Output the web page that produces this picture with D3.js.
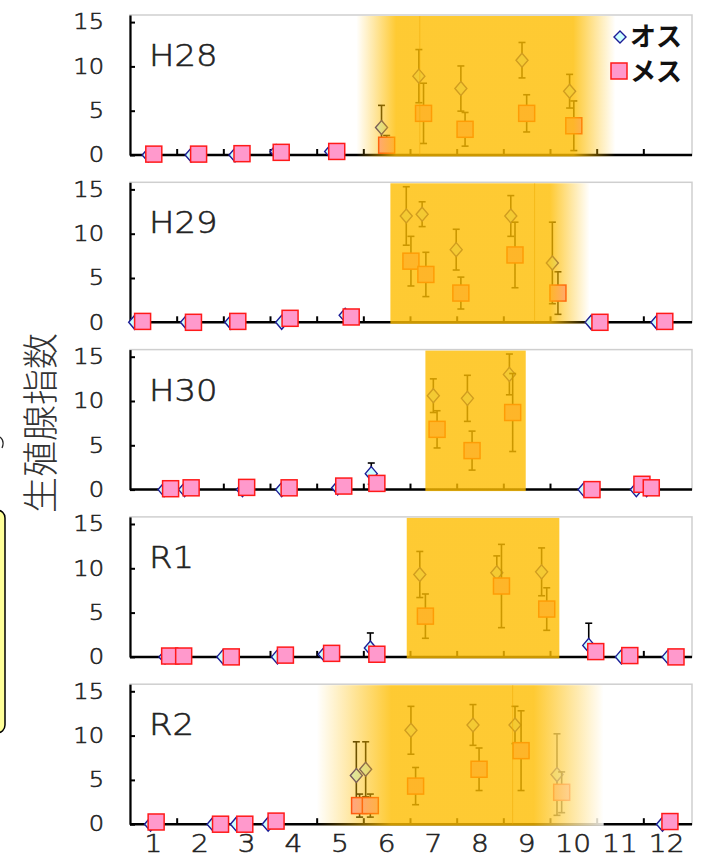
<!DOCTYPE html>
<html lang="ja">
<head>
<meta charset="UTF-8">
<title>生殖腺指数</title>
<script src="https://cdnjs.cloudflare.com/ajax/libs/d3/7.8.5/d3.min.js"></script>
<style>
  body { margin: 0; background: #fff; }
  svg { display: block; }
</style>
</head>
<body>
<svg id="chart" width="709" height="858"></svg>
<script>
// month labels and y ticks
const months = [1, 2, 3, 4, 5, 6, 7, 8, 9, 10, 11, 12];
const yTicks = [0, 5, 10, 15];
const panels = ["H28", "H29", "H30", "R1", "R2"];

// [t, 値, 誤差]  t = 1月はじめを0とした月位置
const osuH28 = [[0.39,0,0],[1.31,0,0],[2.25,0,0],[3.13,0.4,0],[4.30,0.4,0],[5.39,3.1,2.5],
                [6.19,8.9,3.0],[7.09,7.5,2.55],[8.40,10.7,2.0],[9.42,7.2,1.9]];
const mesuH28 = [[0.51,0.1,0],[1.47,0.1,0],[2.40,0.15,0],[3.24,0.3,0],[4.43,0.4,0],[5.50,1.1,1.1],
                 [6.29,4.7,3.4],[7.18,2.9,1.9],[8.50,4.7,2.1],[9.51,3.3,2.8]];
const osuH29 = [[0.10,0,0],[1.21,0,0],[2.16,0,0],[3.25,0,0],[4.61,0.8,0],[5.92,12.0,3.3],
                [6.26,12.2,1.4],[6.99,8.2,2.3],[8.16,12.0,2.3],[9.05,6.7,4.6],[9.88,0,0],[11.29,0,0]];
const mesuH29 = [[0.27,0.1,0],[1.36,0,0],[2.31,0.1,0],[3.43,0.45,0],[4.74,0.6,0],[6.02,6.9,2.8],
                 [6.34,5.4,2.5],[7.09,3.3,1.8],[8.25,7.6,3.7],[9.17,3.3,2.4],[10.07,0,0],[11.46,0.1,0]];
const osuH30 = [[0.73,0,0],[1.17,0,0],[2.41,0,0],[3.25,0,0],[4.45,0.2,0],[5.17,1.8,1.2],
                [6.50,10.6,1.9],[7.23,10.3,2.6],[8.13,13.0,2.3],[9.73,0,0],[10.85,0,0],[11.07,0,0]];
const mesuH30 = [[0.87,0.1,0],[1.31,0.2,0],[2.50,0.25,0],[3.41,0.2,0],[4.58,0.4,0],[5.29,0.7,0],
                 [6.58,6.8,2.1],[7.33,4.4,2.2],[8.20,8.7,4.4],[9.90,0,0],[10.97,0.6,0],[11.17,0.2,0]];
const osuR1 = [[0.75,0,0],[1.05,0,0],[1.99,0,0],[3.16,0,0],[4.16,0.3,0],[5.15,1.0,1.7],
               [6.21,9.3,2.6],[7.86,9.5,1.9],[8.82,9.6,2.7],[9.83,1.3,2.5],[10.53,0,0],[11.53,0,0]];
const mesuR1 = [[0.85,0.1,0],[1.15,0.1,0],[2.17,0,0],[3.33,0.2,0],[4.32,0.4,0],[5.29,0.3,0],
                [6.33,4.6,2.5],[7.96,8.0,4.7],[8.93,5.4,2.4],[9.98,0.6,0],[10.71,0.15,0],[11.70,0,0]];
const osuR2 = [[0.44,0,0],[1.78,0,0],[2.28,0,0],[2.96,0,0],[4.85,5.5,3.8],[5.05,6.2,3.1],
               [6.02,10.6,2.7],[7.35,11.2,2.3],[8.25,11.2,2.1],[9.15,5.6,4.6],[11.41,0,0]];
const mesuR2 = [[0.56,0.25,0],[1.94,0,0],[2.46,0,0],[3.13,0.35,0],[4.92,2.1,1.3],[5.15,2.1,1.3],
                [6.12,4.3,2.1],[7.48,6.2,2.4],[8.38,8.3,4.5],[9.25,3.6,2.3],[11.57,0.3,0]];

// 産卵期の網掛け: [フェード開始, 濃い開始, 濃い終了, フェード終了]
const shadeH28 = [4.85, 5.7, 9.5, 10.4];
const shadeH29 = [5.58, 5.58, 9.0, 9.85];
const shadeH30 = [6.33, 6.33, 8.48, 8.48];
const shadeR1 = [5.93, 5.93, 9.2, 9.2];
const shadeR2 = [4.0, 5.6, 8.65, 10.15];
// 画像のつなぎ目 (うすい縦線)
const seams = [6.21, 8.67, null, null, 8.2];

const osuAll = [osuH28, osuH29, osuH30, osuR1, osuR2];
const mesuAll = [mesuH28, mesuH29, mesuH30, mesuR1, mesuR2];
const shadeAll = [shadeH28, shadeH29, shadeH30, shadeR1, shadeR2];
const fadeToWhite = [false, false, false, false, true];

const svg = d3.select("#chart");
const defs = svg.append("defs");
const x = d3.scaleLinear().domain([0, 12]).range([130, 690]);
const numFont = "'DejaVu Sans', 'Liberation Sans', sans-serif";
const jpFont = "'Noto Sans CJK JP', sans-serif";
const yellow = "rgb(254,189,0)";

// thin numerals, thickened a little with a stroke
const thinText = sel => sel.attr("font-family", numFont).attr("font-weight", 200)
    .attr("fill", "#222").attr("stroke", "#222").attr("stroke-width", 0.55);

// left edge leftovers (box from neighbouring slide)
svg.append("rect").attr("x", -20).attr("y", 510).attr("width", 25).attr("height", 223)
    .attr("rx", 8).attr("fill", "#ffff99").attr("stroke", "#000").attr("stroke-width", 1.5);
svg.append("path").attr("d", "M0,437 Q5,441 2,448").attr("fill", "none")
    .attr("stroke", "#222").attr("stroke-width", 1.2);

panels.forEach((name, i) => {
    const base = 155 + i * 167.3;
    const y = d3.scaleLinear().domain([0, 15.8]).range([base, base - 140]);
    const g = svg.append("g");

    // light frame
    g.append("rect").attr("x", 130).attr("y", base - 140).attr("width", 562).attr("height", 140)
        .attr("fill", "none").attr("stroke", "#cfcfcf").attr("stroke-width", 1.5);

    // y axis
    const ya = g.append("g").attr("transform", "translate(130,0)")
        .call(d3.axisLeft(y).tickValues(yTicks).tickSize(-5).tickSizeOuter(0));
    ya.select(".domain").attr("stroke", "#000").attr("stroke-width", 2.2);
    ya.selectAll(".tick line").attr("stroke", "#000").attr("stroke-width", 2);
    ya.selectAll(".tick text").attr("x", 0).attr("transform", "translate(-26,0) scale(1.15,1)")
        .attr("font-size", 21).call(thinText);

    // x axis
    const xa = g.append("g").attr("transform", `translate(0,${base})`)
        .call(d3.axisBottom(x).tickValues(d3.range(1, 12)).tickSize(-6).tickSizeOuter(0).tickFormat(""));
    xa.select(".domain").attr("stroke", "#000").attr("stroke-width", 2.5)
        .attr("d", `M130,0H692`);
    xa.selectAll(".tick line").attr("stroke", "#000").attr("stroke-width", 2);

    // error bars + markers
    const drawErr = (data) => {
        data.filter(d => d[2] > 0).forEach(d => {
            const cx = x(d[0]);
            const y1 = y(Math.max(0, d[1] - d[2])), y2 = y(d[1] + d[2]);
            g.append("line").attr("x1", cx).attr("x2", cx).attr("y1", y1).attr("y2", y2)
                .attr("stroke", "#000").attr("stroke-width", 1.6);
            [y1, y2].forEach(yy => g.append("line").attr("x1", cx - 3.5).attr("x2", cx + 3.5)
                .attr("y1", yy).attr("y2", yy).attr("stroke", "#000").attr("stroke-width", 1.6));
        });
    };
    drawErr(osuAll[i]);
    g.selectAll(".osu").data(osuAll[i]).join("path")
        .attr("transform", d => `translate(${x(d[0])},${y(d[1])})`)
        .attr("d", "M0,-7L6,0L0,7L-6,0Z")
        .attr("fill", "#ccffff").attr("stroke", "#1c1c96").attr("stroke-width", 1.4);
    drawErr(mesuAll[i]);
    g.selectAll(".mesu").data(mesuAll[i]).join("rect")
        .attr("x", d => x(d[0]) - 8).attr("y", d => y(d[1]) - 8)
        .attr("width", 16).attr("height", 16)
        .attr("fill", "#ff99cc").attr("stroke", "#ff1a1a").attr("stroke-width", 1.5);

    // spawning season overlay
    const s = shadeAll[i];
    const x0 = x(s[0]), x3 = x(s[3]);
    const gid = "shade" + i;
    const grad = defs.append("linearGradient").attr("id", gid)
        .attr("gradientUnits", "userSpaceOnUse")
        .attr("x1", x0).attr("x2", x3).attr("y1", 0).attr("y2", 0);
    const w = x3 - x0;
    const endCol = fadeToWhite[i] ? "#ffffff" : yellow;
    const endOp = fadeToWhite[i] ? 0.85 : 0;
    grad.append("stop").attr("offset", 0).attr("stop-color", yellow).attr("stop-opacity", s[1] > s[0] ? 0 : 0.8);
    grad.append("stop").attr("offset", (x(s[1]) - x0) / w).attr("stop-color", yellow).attr("stop-opacity", 0.8);
    grad.append("stop").attr("offset", (x(s[2]) - x0) / w).attr("stop-color", yellow).attr("stop-opacity", 0.8);
    grad.append("stop").attr("offset", 1).attr("stop-color", s[3] > s[2] ? endCol : yellow)
        .attr("stop-opacity", s[3] > s[2] ? endOp : 0.8);
    g.append("rect").attr("x", x0).attr("y", base - 139).attr("width", w).attr("height", 140.5)
        .attr("fill", `url(#${gid})`);
    if (seams[i] !== null) {
        g.append("line").attr("x1", x(seams[i])).attr("x2", x(seams[i]))
            .attr("y1", base - 139).attr("y2", base)
            .attr("stroke", "rgba(240,170,0,0.5)").attr("stroke-width", 1);
    }

    // panel label
    g.append("text").attr("transform", `translate(149,${base - 89}) scale(1.13,1)`).text(name)
        .attr("font-size", 30).call(thinText);

    // legend in first panel
    if (i === 0) {
        g.append("path").attr("transform", "translate(620,37)").attr("d", "M0,-6L6,0L0,6L-6,0Z")
            .attr("fill", "#ccffff").attr("stroke", "#1c1c96").attr("stroke-width", 1.4);
        g.append("rect").attr("x", 611).attr("y", 63).attr("width", 16).attr("height", 16)
            .attr("fill", "#ff99cc").attr("stroke", "#ff1a1a").attr("stroke-width", 1.5);
        g.append("text").attr("x", 630).attr("y", 46).text("オス")
            .attr("font-family", jpFont).attr("font-weight", "bold").attr("font-size", 26).attr("fill", "#111");
        g.append("text").attr("x", 630).attr("y", 81).text("メス")
            .attr("font-family", jpFont).attr("font-weight", "bold").attr("font-size", 26).attr("fill", "#111");
    }

    // month labels under the last panel
    if (i === panels.length - 1) {
        g.selectAll(".mlab").data(months).join("text")
            .attr("transform", d => `translate(${x(d - 0.5)},852) scale(1.12,1)`)
            .attr("text-anchor", "middle").text(d => d)
            .attr("font-size", 25).call(thinText);
    }
});

// y title
svg.append("text").attr("transform", "translate(38,423) rotate(-90)")
    .attr("text-anchor", "middle").attr("dominant-baseline", "central")
    .attr("font-family", jpFont).attr("font-weight", 300)
    .attr("font-size", 36).attr("fill", "#333")
    .text("生殖腺指数");
</script>
</body>
</html>
